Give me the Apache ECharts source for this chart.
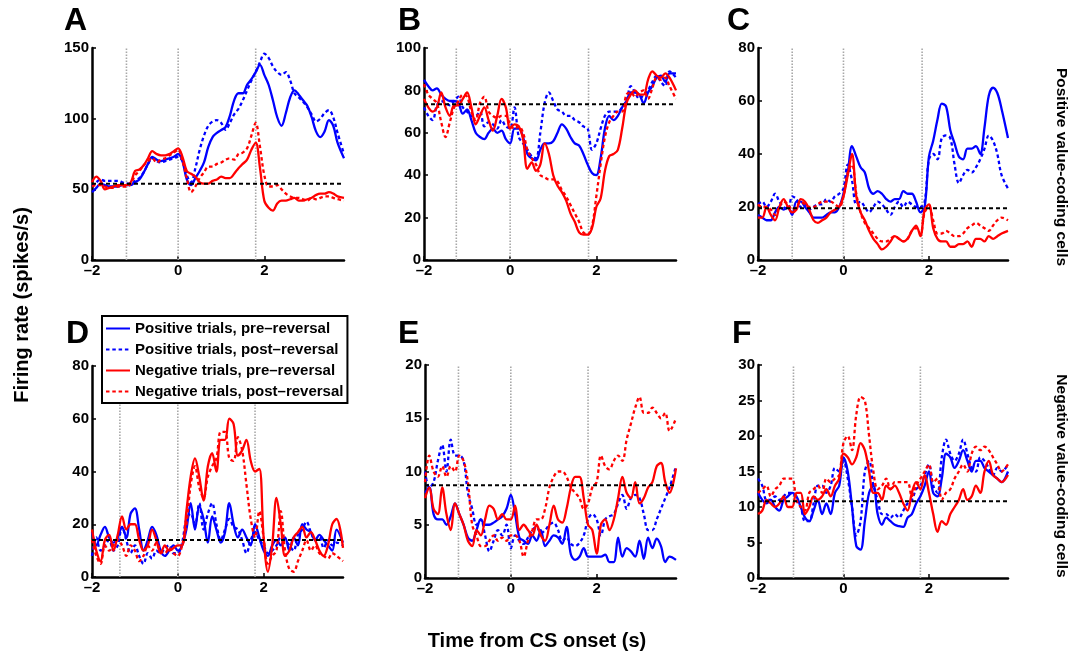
<!DOCTYPE html>
<html><head><meta charset="utf-8">
<script src="https://cdn.jsdelivr.net/npm/echarts@6/dist/echarts.min.js"></script>
<style>html,body{margin:0;padding:0;background:#fff}#c{width:1073px;height:652px}</style>
</head><body><div id="c"></div>
<script>
// ---- data ----
const time = [-2.0,-1.9,-1.8,-1.7,-1.6,-1.5,-1.4,-1.3,-1.2,-1.1, -1.0,-0.9,-0.8,-0.7,-0.6,-0.5,-0.4,-0.3,-0.2,-0.1, 0.0,0.1,0.2,0.3,0.4,0.5,0.6,0.7,0.8,0.9, 1.0,1.1,1.2,1.3,1.4,1.5,1.6,1.7,1.8,1.9, 2.0,2.1,2.2,2.3,2.4,2.5,2.6,2.7,2.8,2.9, 3.0,3.1,3.2,3.3,3.4,3.5,3.6,3.7,3.85];
const seriesNames = ['Positive trials, pre\u2013reversal','Positive trials, post\u2013reversal','Negative trials, pre\u2013reversal','Negative trials, post\u2013reversal'];
const panelLetters = ['A','B','C','D','E','F'];
const yMax = [150,100,80,80,20,30];
const yStep = [50,20,20,20,5,5];
const xTicks = [-2,0,2];
const baseline = [54,73.5,19.5,14,8.7,10.8];
const cueTimes = [[-1.2,0,1.8],[-1.25,0,1.82],[-1.2,0,1.84],[-1.35,0,1.8],[-1.22,0,1.8],[-1.17,0,1.8]];

const A_posPre  = [48,51,54,53,52,52,52,53,53,53, 55,57,62,68,73,71,70,71,72,73, 75,70,57,53,58,63,69,80,87,90, 92,94,102,113,118,118,124,128,133,138, 131,124,113,101,95,104,115,120,117,113, 109,101,91,87,91,99,95,83,72];
const A_posPost = [52,55,57,56,56,56,56,55,54,54, 56,58,62,68,72,70,69,70,71,72, 73,70,60,55,65,78,88,95,98,99, 97,92,97,103,107,113,120,127,133,140, 146,143,137,133,131,133,127,118,115,112, 108,103,98,100,104,106,101,90,75];
const A_negPre  = [55,59,56,50,51,52,53,53,53,55, 63,64,67,72,77,75,74,74,75,77, 79,73,63,61,59,55,54,54,56,57, 59,58,58,61,65,68,71,78,83,65, 42,37,35,40,42,42,43,44,42,42, 43,44,46,47,47,48,47,45,44];
const A_negPost = [52,53,53,52,51,51,52,52,52,54, 60,63,67,70,72,69,71,72,74,76, 78,70,58,48,52,58,62,66,66,68, 69,71,72,71,75,76,79,88,97,80, 60,52,52,53,50,47,45,44,44,43, 42,44,43,44,45,45,44,43,42];

const B_posPre  = [85,82,80,81,78,76,75,75,74,69, 71,66,60,58,57,60,62,60,61,57, 55,62,62,58,50,48,47,52,55,55, 56,60,64,62,58,55,54,50,45,41, 40,48,62,68,66,68,72,75,79,79, 78,74,79,82,86,87,84,88,88];
const B_posPost = [72,68,66,73,75,74,73,75,77,72, 70,68,68,70,63,65,64,62,66,63, 62,72,58,55,52,49,48,60,74,79, 75,71,70,68,68,66,65,63,62,52, 55,62,68,70,70,70,72,75,82,79, 76,78,80,84,87,84,82,89,86];
const B_negPre  = [76,72,70,72,79,72,68,73,73,76, 79,72,64,68,72,66,61,68,76,72, 62,64,63,57,43,46,42,45,55,50, 40,35,32,28,22,18,13,12,12,15, 25,29,42,49,50,52,62,74,78,80, 78,78,85,89,87,86,88,86,80];
const B_negPost = [83,78,76,74,65,58,65,72,75,78, 77,70,66,74,77,70,68,67,68,68, 64,62,63,60,52,48,45,40,39,38, 38,37,33,30,26,22,18,13,12,16, 30,45,58,65,68,70,70,78,79,77, 79,80,76,81,86,85,86,82,76];

const C_posPre  = [17,16,15,15,18,20,19,20,17,22, 22,20,18,16,16,16,17,18,18,20, 25,33,43,39,35,33,27,25,26,25, 23,22,23,23,26,25,25,22,18,20, 39,45,53,59,58,49,44,39,38,42, 42,43,40,50,62,65,63,57,46];
const C_posPost = [21,22,20,22,25,22,20,19,24,23, 20,21,19,20,21,21,23,22,24,25, 27,36,30,21,22,20,18,20,22,21, 19,17,20,22,20,22,21,20,20,22, 38,40,38,46,47,46,36,29,32,34, 33,35,38,42,47,45,40,32,27];
const C_negPre  = [16,16,20,17,15,20,23,20,18,19, 23,22,19,15,14,15,16,18,19,20, 24,32,40,24,18,15,11,8,6,4, 5,7,9,8,7,8,11,13,9,19, 21,12,8,7,7,5,5,6,6,7, 5,8,8,7,9,8,9,10,11];
const C_negPost = [21,20,20,19,17,20,22,21,19,20, 22,21,20,20,21,22,22,22,21,20, 24,33,36,25,18,14,12,10,8,7, 7,8,9,8,7,8,11,12,10,18, 20,15,10,10,11,10,9,9,10,12, 13,14,13,12,11,13,15,16,15];

const D_posPre  = [17,12,16,19,15,13,15,19,15,24, 26,18,10,14,19,16,10,8,10,12, 10,12,18,28,18,27,22,13,23,18, 13,17,28,20,15,18,15,12,20,15, 10,8,12,14,12,15,10,15,12,20, 18,17,14,16,14,12,10,18,13];
const D_posPost = [8,15,10,12,14,10,12,19,14,9, 12,8,5,9,7,10,9,11,12,9, 9,13,22,24,20,28,18,24,28,20, 14,18,22,19,18,14,9,14,17,14, 12,9,10,12,15,14,12,10,16,18, 21,17,14,15,11,14,12,13,12];
const D_negPre  = [18,10,6,14,16,10,16,23,18,20, 20,14,10,12,18,14,9,12,10,11, 12,12,25,38,45,38,29,42,47,40, 52,52,60,58,46,48,52,44,40,41, 15,2,12,30,20,8,10,15,17,19, 15,17,14,10,8,12,20,22,11];
const D_negPost = [14,8,5,12,10,12,14,12,8,12, 10,6,8,12,10,13,10,9,11,9, 8,12,20,35,42,34,30,38,42,45, 55,55,45,44,53,48,35,22,15,25, 15,5,8,10,25,10,3,2,6,10, 14,10,12,9,8,7,9,8,6];

const E_posPre  = [8,8.5,6,5.5,5.5,5,5.8,7,6,5, 3.8,3.5,4.5,5.5,5,5,5.2,5.5,5.8,6.5, 7.8,6,3.8,3.5,3.2,4,3.5,4.5,3,3.5, 4,3.8,3.2,4.8,2.2,1.7,2,2.8,2,2, 2,2,2.2,1.5,1.5,3.8,2,2.8,2.5,2, 3.5,1.8,3.8,2.8,3.7,3,1.5,2,1.7];
const E_posPost = [10,8.5,9,11,12.5,10,13,11.5,11.5,11, 8,6.5,5,5.5,4,2.5,3.5,4.5,4,5, 2.8,4,3.5,3.2,3.8,4.5,4.8,4.2,4.5,5, 5.2,4.5,3.5,3.8,3.2,3,3.3,4,5.5,6, 5.5,4,5.5,5.8,6,7,7.8,6.5,7.5,7.8, 7.5,6,4.5,4.5,5.5,6.5,7.5,8.5,10.5];
const E_negPre  = [7.5,8.5,6.5,6,8.5,6,4.5,7,6,5, 3.5,3,4.5,4,5.5,6.8,6.5,5.5,6,5.5, 5.5,6.8,4.5,5,4.5,4,5,4,3.5,5, 6.8,5.5,5.2,6.5,8.5,9.5,9.5,7.5,5,4.5, 2.3,5,5.5,4.5,5.5,7.5,9.5,8,7.5,9, 7,7.5,8.5,9,10.5,10.8,9,8,10.3];
const E_negPost = [9,11.5,10,9.5,10.5,9.5,10.5,10,11.5,11, 9,5,4,3,3,3.5,4,3.5,3.8,3.5, 4,4,3.5,2,3.5,4.5,5.5,5.5,6.5,8.5, 9.5,10,10,9.5,8.5,8,7.5,6.5,7,8.5, 9,11.5,10.5,10.2,11,11.5,11,13,14.5,16, 17,15.5,15.5,16,15.5,15,15.5,13.8,15];

const F_posPre  = [12,11,10.5,11,10,9.5,11,11.5,12,11.5, 10,8.5,8,9.5,11,9,10.5,9,12,13, 17,15,10,4.5,4,8,12,13,9,7.5, 8.5,8,7.5,7.3,7.2,8.5,9,10.5,11.5,13, 15,12,11.5,14,17.5,17,15.5,16.5,18,16.5, 15,16.5,16.5,15.5,15,14.5,14,13.5,15];
const F_posPost = [14,13,11,11,11.5,11,11.5,12,12,11, 10,8,8,10.5,13,13,12,13,15.5,15, 16.5,14,10,6,8,15,16.5,13,11,9, 9,8.5,9,8.5,9.5,10.5,11,12.5,13,14.5, 16,13,12,17,19.5,17.5,16.5,17.5,19.5,17.5, 15.5,15,17,16.5,15.5,14.5,15.5,15,16];
const F_negPre  = [9,9.5,11,10.5,10,10.5,11.5,10,10,12, 12,9,10,11.5,11,11.5,12.5,11.5,13,14, 17.5,17,16,17,19,18,15,12,12,11, 13,12.5,13,12,10.5,9.5,12,13.5,12.5,14.5, 12,9,6.5,8,7.5,9,10,11,12.5,11, 11.5,13,12,15,16.5,14.5,14,13.5,14.5];
const F_negPost = [12,12.5,13,11.5,12.5,13,14,14,14,11, 10,9.5,12,12.5,13,12,14,13.5,14,14.5, 19,20,18,23,25.5,25,20,15,12.5,13, 14,12.5,13.5,13.5,13.5,13.5,11.5,13,14,15, 16,13.5,14,11,12,12.5,14,15,16,15, 17.5,18.5,18,18.5,18,17,16,15,16];

const panelData = [
  [A_posPre, A_posPost, A_negPre, A_negPost],
  [B_posPre, B_posPost, B_negPre, B_negPost],
  [C_posPre, C_posPost, C_negPre, C_negPost],
  [D_posPre, D_posPost, D_negPre, D_negPost],
  [E_posPre, E_posPost, E_negPre, E_negPost],
  [F_posPre, F_posPost, F_negPre, F_negPost]
];

// ---- layout & style ----
const FONT = '"Liberation Sans", Arial, Helvetica, sans-serif';
const X_MAX = 3.85;
const gridPos = [
  {left:92, top:48, width:252, height:212},
  {left:424, top:48, width:252, height:212},
  {left:758, top:48, width:250, height:212},
  {left:92, top:366, width:251, height:211},
  {left:425, top:365, width:251, height:213},
  {left:758, top:365, width:250, height:213}
];
const lineStyles = [
  {color:'#0000ff', type:'solid'},
  {color:'#0000ff', type:[3.5,2.8]},
  {color:'#ff0000', type:'solid'},
  {color:'#ff0000', type:[3.5,2.8]}
];
const letterPos = [[64,21.5],[398,21.5],[727,21.5],[66,334],[398,334],[732,334]];

const grids = [], xAxes = [], yAxes = [], series = [];
const labelStyle = {color:'#000', fontSize:15, fontWeight:'bold', fontFamily:FONT};
for (let p = 0; p < 6; p++) {
  grids.push(Object.assign({containLabel:false, outerBoundsMode:'none'}, gridPos[p]));
  xAxes.push({
    type:'value', gridIndex:p, min:-2, max:X_MAX, interval:2,
    axisLine:{show:true, onZero:false, lineStyle:{color:'#000', width:2.5}},
    axisTick:{show:true, inside:true, length:4, lineStyle:{color:'#000', width:1.5}, customValues:xTicks},
    axisLabel:Object.assign({margin:3, customValues:xTicks,
      formatter:v => (Math.abs(v - Math.round(v)) > 1e-6 ? '' : (v < 0 ? '\u2013' + Math.abs(v) : String(v)))}, labelStyle),
    splitLine:{show:false}
  });
  yAxes.push({
    type:'value', gridIndex:p, min:0, max:yMax[p], interval:yStep[p],
    axisLine:{show:true, onZero:false, lineStyle:{color:'#000', width:2.5}},
    axisTick:{show:true, inside:true, length:4, lineStyle:{color:'#000', width:1.5}},
    axisLabel:Object.assign({margin:3}, labelStyle),
    splitLine:{show:false}
  });
  cueTimes[p].forEach(c => {
    series.push({
      type:'line', name:'cue', xAxisIndex:p, yAxisIndex:p, silent:true, symbol:'none', z:1,
      lineStyle:{color:'#a8a8a8', width:1.6, type:[1.5,1.5]},
      data:[[c,0],[c,yMax[p]]]
    });
  });
  panelData[p].forEach((arr, k) => {
    series.push({
      type:'line', name:seriesNames[k], xAxisIndex:p, yAxisIndex:p,
      symbol:'none', showSymbol:false, smooth:0.35, z:2+k*0.1,
      lineStyle:Object.assign({width:2.3}, lineStyles[k]),
      itemStyle:{color:lineStyles[k].color},
      data:time.map((t,i) => [t, arr[i]])
    });
  });
  series.push({
    type:'line', name:'baseline', xAxisIndex:p, yAxisIndex:p, silent:true, symbol:'none', z:4,
    lineStyle:{color:'#000', width:2, type:[4,3]},
    data:[[-2, baseline[p]], [X_MAX, baseline[p]]]
  });
}

const graphics = [];
panelLetters.forEach((L, p) => {
  graphics.push({type:'text', x:letterPos[p][0], y:letterPos[p][1],
    style:{text:L, font:'bold 32px ' + FONT, fill:'#000', textAlign:'left', textVerticalAlign:'middle', align:'left', verticalAlign:'middle'}});
});
graphics.push({type:'text', x:22, y:305, rotation:Math.PI/2,
  style:{text:'Firing rate (spikes/s)', font:'bold 20px ' + FONT, fill:'#000', textAlign:'center', textVerticalAlign:'middle', align:'center', verticalAlign:'middle'}});
graphics.push({type:'text', x:537, y:641,
  style:{text:'Time from CS onset (s)', font:'bold 20px ' + FONT, fill:'#000', textAlign:'center', textVerticalAlign:'middle', align:'center', verticalAlign:'middle'}});
graphics.push({type:'text', x:1061, y:167, rotation:-Math.PI/2,
  style:{text:'Positive value-coding cells', font:'bold 15.5px ' + FONT, fill:'#000', textAlign:'center', textVerticalAlign:'middle', align:'center', verticalAlign:'middle'}});
graphics.push({type:'text', x:1061, y:476, rotation:-Math.PI/2,
  style:{text:'Negative value-coding cells', font:'bold 15.5px ' + FONT, fill:'#000', textAlign:'center', textVerticalAlign:'middle', align:'center', verticalAlign:'middle'}});

const chart = echarts.init(document.getElementById('c'), null, {renderer:'canvas'});
chart.setOption({
  backgroundColor:'#fff',
  animation:false,
  grid:grids, xAxis:xAxes, yAxis:yAxes, series:series,
  legend:{
    data:seriesNames, orient:'vertical', left:102, top:316,
    itemWidth:24, itemHeight:14, itemGap:6,
    padding:[5,4,4,3],
    borderColor:'#000', borderWidth:2, backgroundColor:'#fff',
    selectedMode:false,
    itemStyle:{opacity:0},
    textStyle:{color:'#000', fontSize:15, fontWeight:'bold', fontFamily:FONT, lineHeight:14}
  },
  graphic:graphics
});
</script>
</body></html>
